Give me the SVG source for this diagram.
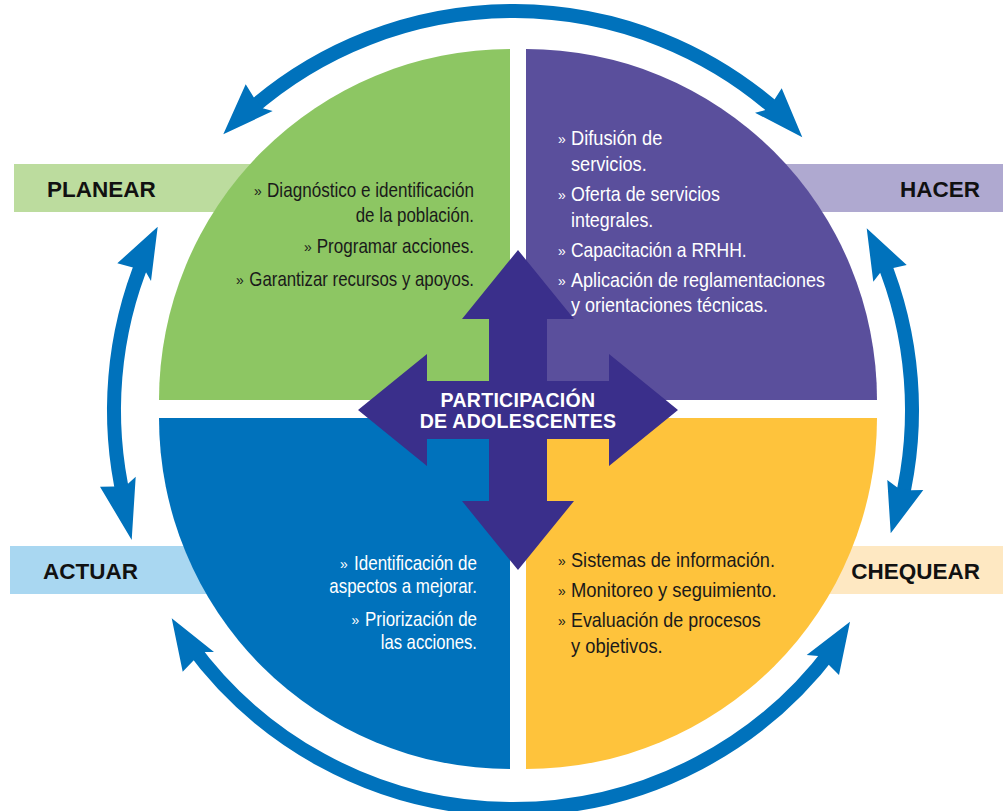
<svg xmlns="http://www.w3.org/2000/svg" width="1003" height="811" viewBox="0 0 1003 811">
<defs>
<style>
.lbl{font-family:"Liberation Sans",Arial,sans-serif;font-weight:bold;font-size:22.5px;fill:#111}
.t{font-family:"Liberation Sans",Arial,sans-serif;font-size:21px}
.dk{fill:#1a1a1a}
.wh{fill:#ffffff}
.b{font-size:14px}
.arc{fill:none;stroke:#0072bc;stroke-width:14}
.head{fill:#0072bc}
.ctr{font-family:"Liberation Sans",Arial,sans-serif;font-weight:bold;font-size:19.5px;fill:#fff;text-anchor:middle;letter-spacing:0.3px}
</style>
</defs>
<rect width="1003" height="811" fill="#ffffff"/>
<g id="bars">
<rect x="14" y="164" width="300" height="48" fill="#bcdc9e"/>
<rect x="700" y="164" width="303" height="48" fill="#afa9d0"/>
<rect x="10" y="546" width="300" height="48" fill="#a9d7f1"/>
<rect x="700" y="546" width="303" height="48" fill="#fee8c2"/>
</g>
<g id="planear">
<path d="M510,400 L159,400 A351,351 0 0 1 510,49 Z" fill="#8dc663"/>
<text class="lbl" x="47" y="197">PLANEAR</text>
<g class="t dk" lengthAdjust="spacingAndGlyphs">
<text class="b" x="254" y="196">»</text>
<text x="267" y="197" textLength="207" lengthAdjust="spacingAndGlyphs">Diagnóstico e identificación</text>
<text x="355.7" y="222" textLength="118.3" lengthAdjust="spacingAndGlyphs">de la población.</text>
<text class="b" x="304" y="252">»</text>
<text x="316.7" y="253" textLength="157.3" lengthAdjust="spacingAndGlyphs">Programar acciones.</text>
<text class="b" x="236" y="285">»</text>
<text x="249.3" y="286" textLength="224.7" lengthAdjust="spacingAndGlyphs">Garantizar recursos y apoyos.</text>
</g>
</g>
<g id="hacer">
<path d="M526,400 L526,49 A351,351 0 0 1 877,400 Z" fill="#5a4f9c"/>
<text class="lbl" x="980" y="197" text-anchor="end">HACER</text>
<g class="t wh">
<text class="b" x="558" y="144">»</text>
<text x="571" y="145" textLength="91.3" lengthAdjust="spacingAndGlyphs">Difusión de</text>
<text x="571" y="171" textLength="75.7" lengthAdjust="spacingAndGlyphs">servicios.</text>
<text class="b" x="558" y="200">»</text>
<text x="571" y="201" textLength="149" lengthAdjust="spacingAndGlyphs">Oferta de servicios</text>
<text x="571" y="227" textLength="82.3" lengthAdjust="spacingAndGlyphs">integrales.</text>
<text class="b" x="558" y="256">»</text>
<text x="571" y="257" textLength="175.7" lengthAdjust="spacingAndGlyphs">Capacitación a RRHH.</text>
<text class="b" x="558" y="286">»</text>
<text x="571" y="287" textLength="254" lengthAdjust="spacingAndGlyphs">Aplicación de reglamentaciones</text>
<text x="571" y="312" textLength="197" lengthAdjust="spacingAndGlyphs">y orientaciones técnicas.</text>
</g>
</g>
<g id="actuar">
<path d="M510,418 L510,769 A351,351 0 0 1 159,418 Z" fill="#0072bc"/>
<text class="lbl" x="43" y="579">ACTUAR</text>
<g class="t wh">
<text class="b" x="340" y="569">»</text>
<text x="354" y="570" textLength="123" lengthAdjust="spacingAndGlyphs">Identificación de</text>
<text x="329.3" y="593" textLength="147.7" lengthAdjust="spacingAndGlyphs">aspectos a mejorar.</text>
<text class="b" x="351.5" y="625">»</text>
<text x="365" y="626" textLength="112" lengthAdjust="spacingAndGlyphs">Priorización de</text>
<text x="380.7" y="649" textLength="96.3" lengthAdjust="spacingAndGlyphs">las acciones.</text>
</g>
</g>
<g id="chequear">
<path d="M526,418 L877,418 A351,351 0 0 1 526,769 Z" fill="#fec33c"/>
<text class="lbl" x="980" y="579" text-anchor="end">CHEQUEAR</text>
<g class="t dk">
<text class="b" x="558" y="566">»</text>
<text x="571" y="567" textLength="204" lengthAdjust="spacingAndGlyphs">Sistemas de información.</text>
<text class="b" x="558" y="596">»</text>
<text x="571" y="597" textLength="205.7" lengthAdjust="spacingAndGlyphs">Monitoreo y seguimiento.</text>
<text class="b" x="558" y="626">»</text>
<text x="571" y="627" textLength="189.7" lengthAdjust="spacingAndGlyphs">Evaluación de procesos</text>
<text x="571" y="653" textLength="91.7" lengthAdjust="spacingAndGlyphs">y objetivos.</text>
</g>
</g>
<g id="participacion">
<polygon fill="#3a2f8b" points="518,250 574,319 547,319 547,381 609,381 609,354 678,410 609,466 609,439 547,439 547,501 574,501 518,570 462,501 489,501 489,439 427,439 427,466 358,410 427,354 427,381 489,381 489,319 462,319"/>
<text class="ctr" x="518" y="407">PARTICIPACIÓN</text>
<text class="ctr" x="518" y="428">DE ADOLESCENTES</text>
</g>
<g id="connectors">
<path class="arc" d="M248.6,111.2 A399,399 0 0 1 780.0,113.5"/>
<path class="arc" d="M124.2,499.8 A399,399 0 0 1 144.4,257.3"/>
<path class="arc" d="M881.6,257.3 A399,399 0 0 1 901.0,503.2"/>
<path class="arc" d="M831.7,650.1 A399,399 0 0 1 190.2,644.5"/>
<polygon class="head" points="223.3,134.3 245.7,84.3 253.9,97.5 262.8,108.2 272.7,111"/>
<polygon class="head" points="802.3,137.3 781.7,88.3 774.5,99.4 765.4,110.1 755,112.7"/>
<polygon class="head" points="157.7,226.7 117.3,263.3 132.9,267.4 146.0,272.3 151,281"/>
<polygon class="head" points="131.7,540 100,486.7 114.3,486.4 128.0,483.8 135.7,476.7"/>
<polygon class="head" points="866.7,228.3 906.7,265 893.3,267.9 880.2,272.8 873.3,281.7"/>
<polygon class="head" points="890.7,533.3 887.3,480 897.3,487.4 911.0,490.2 923.3,490"/>
<polygon class="head" points="171.7,618.3 214,652 204.6,651.9 193.5,660.6 182.7,671.7"/>
<polygon class="head" points="850,621.7 806.7,655 818.1,656.1 829.0,664.9 839,675"/>
</g>
</svg>
